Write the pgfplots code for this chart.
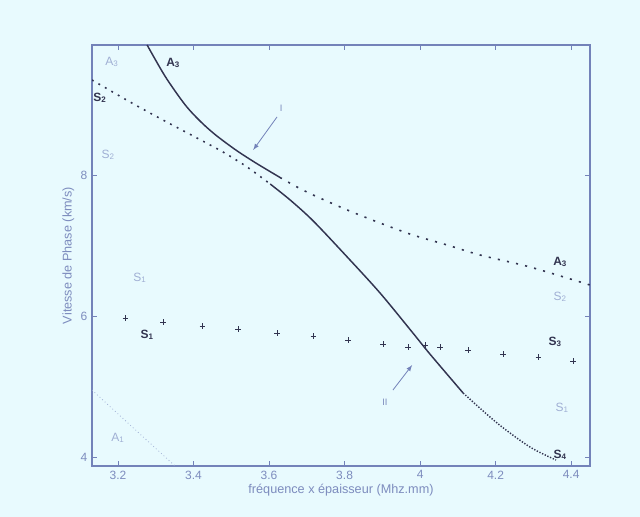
\documentclass[border=0pt]{standalone}
\usepackage{fontspec}
\setmainfont{Liberation Sans}
\usepackage{pgfplots}
\pgfplotsset{compat=1.18}
\definecolor{bg}{RGB}{232,250,254}
\definecolor{axc}{RGB}{115,130,185}
\definecolor{tickc}{RGB}{125,140,190}
\definecolor{dark}{RGB}{50,52,80}
\definecolor{faint}{RGB}{160,175,212}
\begin{document}
\begin{tikzpicture}
\fill[bg] (0,0) rectangle (480pt,387.75pt);
\begin{axis}[
  at={(69pt,38.25pt)}, anchor=south west,
  width=373.5pt, height=315.75pt, scale only axis,
  xmin=3.131, xmax=4.45, ymin=3.873, ymax=9.844,
  xtick={3.2,3.4,3.6,3.8,4,4.2,4.4},
  ytick={4,6,8},
  tick align=inside, major tick length=4pt,
  axis line style={axc, line width=0.8pt},
  tick style={axc, line width=0.6pt},
  ticklabel style={tickc, font=\fontsize{9}{10}\selectfont},
  /pgf/number format/assume math mode=true,
  xlabel={fréquence x épaisseur (Mhz.mm)},
  ylabel={Vitesse de Phase (km/s)},
  label style={tickc, font=\fontsize{9.5}{11}\selectfont},
  xlabel style={yshift=3pt},
  ylabel style={yshift=-2pt},
  clip=true,
]
% faint A1
\addplot[faint, line width=0.6pt, dotted] coordinates {(3.131,4.950) (3.232,4.454) (3.351,3.873)};
% upper branch: solid (A3) then dotted to A3 right
\addplot[dark, line width=1.1pt, smooth] coordinates {
(3.277,9.844) (3.325,9.397) (3.377,9.000) (3.417,8.766) (3.457,8.574) (3.510,8.362)
(3.563,8.177) (3.629,7.965)};
\addplot[dark, line width=1.2pt, smooth, dash pattern=on 1.6pt off 5.4pt] coordinates {
(3.629,7.965) (3.674,7.830) (3.717,7.716) (3.807,7.504) (3.894,7.319) (3.981,7.149)
(4.072,7.007) (4.159,6.865) (4.291,6.695) (4.450,6.440)};
% lower branch: dotted (S2) then solid down to S4
\addplot[dark, line width=1.2pt, smooth, dash pattern=on 1.4pt off 4.2pt] coordinates {
(3.131,9.348) (3.232,9.035) (3.319,8.780) (3.409,8.525) (3.478,8.326) (3.542,8.113) (3.603,7.872)};
\addplot[dark, line width=1.1pt, smooth] coordinates {
(3.603,7.872) (3.656,7.645) (3.717,7.348) (3.807,6.837) (3.894,6.326) (3.981,5.759)
(4.026,5.461) (4.114,4.908)};
\addplot[dark, line width=1.1pt, smooth, dash pattern=on 1pt off 1.2pt] coordinates {
(4.114,4.908) (4.204,4.482) (4.291,4.142) (4.360,3.958)};
% S3 star line
\addplot[only marks, mark=+, mark size=2pt, dark, line width=0.6pt] coordinates {
(3.219,5.972) (3.319,5.915) (3.423,5.858) (3.518,5.816) (3.621,5.759) (3.717,5.716)
(3.809,5.660) (3.902,5.603) (3.968,5.560) (4.013,5.589) (4.053,5.560) (4.127,5.518)
(4.220,5.461) (4.313,5.418) (4.405,5.362)};
% labels
\begin{scope}[font=\fontsize{9}{10}\selectfont]
\node[dark, font=\fontsize{9}{10}\selectfont\bfseries] at (axis cs:3.346,9.589) {A\textsubscript{3}};
\node[dark, font=\fontsize{9}{10}\selectfont\bfseries] at (axis cs:3.152,9.092) {S\textsubscript{2}};
\node[faint] at (axis cs:3.184,9.603) {A\textsubscript{3}};
\node[faint] at (axis cs:3.174,8.284) {S\textsubscript{2}};
\node[faint] at (axis cs:3.258,6.539) {S\textsubscript{1}};
\node[dark, font=\fontsize{9}{10}\selectfont\bfseries] at (axis cs:3.277,5.731) {S\textsubscript{1}};
\node[faint] at (axis cs:3.200,4.270) {A\textsubscript{1}};
\node[dark, font=\fontsize{9}{10}\selectfont\bfseries] at (axis cs:4.371,6.766) {A\textsubscript{3}};
\node[faint] at (axis cs:4.371,6.270) {S\textsubscript{2}};
\node[dark, font=\fontsize{9}{10}\selectfont\bfseries] at (axis cs:4.358,5.631) {S\textsubscript{3}};
\node[faint] at (axis cs:4.376,4.695) {S\textsubscript{1}};
\node[dark, font=\fontsize{9}{10}\selectfont\bfseries] at (axis cs:4.371,4.028) {S\textsubscript{4}};
\node[tickc, font=\fontsize{7}{8}\selectfont] at (axis cs:3.632,8.950) {I};
\node[tickc, font=\fontsize{7}{8}\selectfont] at (axis cs:3.907,4.780) {II};
\end{scope}
\draw[axc, line width=0.6pt, -latex] (axis cs:3.621,8.823) -- (axis cs:3.558,8.355);
\draw[axc, line width=0.6pt, -latex] (axis cs:3.928,4.950) -- (axis cs:3.979,5.305);
\end{axis}
\pgfresetboundingbox
\useasboundingbox (0,0) rectangle (480pt,387.75pt);
\end{tikzpicture}
\end{document}
